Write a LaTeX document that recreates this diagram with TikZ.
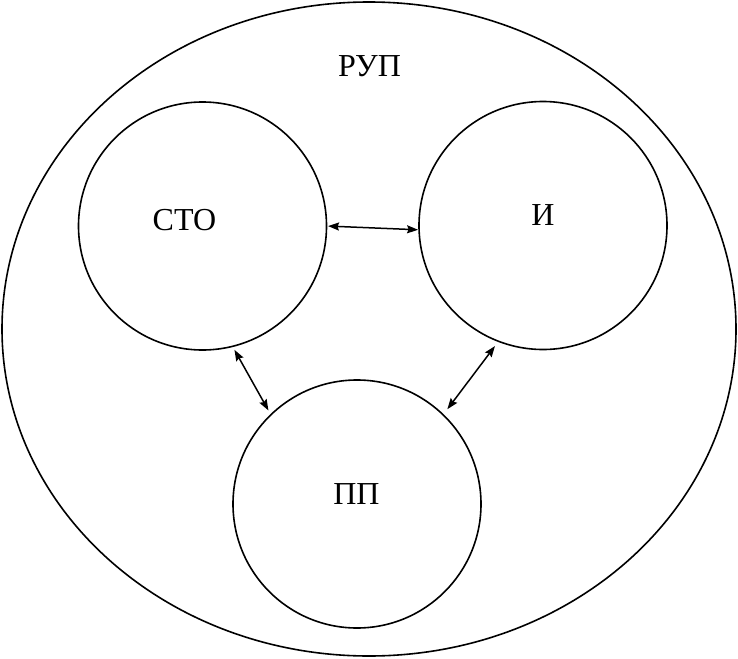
\documentclass[tikz,border=0pt]{standalone}
\usepackage{fontspec}
\setmainfont{Liberation Serif}
\usetikzlibrary{arrows.meta,shapes.geometric}
\begin{document}
\begin{tikzpicture}[x=1pt,y=-1pt,
  circ/.style={draw, circle, line width=1.6pt, minimum size=248pt, inner sep=0pt, outer sep=0pt},
  lbl/.style={font=\fontsize{32}{36}\selectfont, inner sep=0pt},
  conn/.style={line width=1.5pt, {Stealth[length=11pt,width=8pt,inset=1.5pt]}-{Stealth[length=11pt,width=8pt,inset=1.5pt]}}]
\useasboundingbox (0,0) rectangle (738,658);
\node[draw, ellipse, line width=1.6pt, minimum width=734pt, minimum height=654pt, inner sep=0pt, outer sep=0pt] (rup) at (369,329) {};
\node[circ] (sto) at (202.5,226) {};
\node[circ] (i) at (543,225.5) {};
\node[circ] (pp) at (357,504) {};
\node[lbl] (trup) at (369.5,66) {РУП};
\node[lbl] (tsto) at (184.5,220) {СТО};
\node[lbl] (ti) at (543,215) {И};
\node[lbl] (tpp) at (356.5,494.5) {ПП};
\draw[conn, shorten <=1.5pt, shorten >=1pt] (sto.0) -- (i.182);
\draw[conn, shorten <=4pt, shorten >=5pt] (sto.-76) -- (pp.134);
\draw[conn, shorten <=6pt, shorten >=7pt] (i.-111) -- (pp.46);
\end{tikzpicture}
\end{document}
